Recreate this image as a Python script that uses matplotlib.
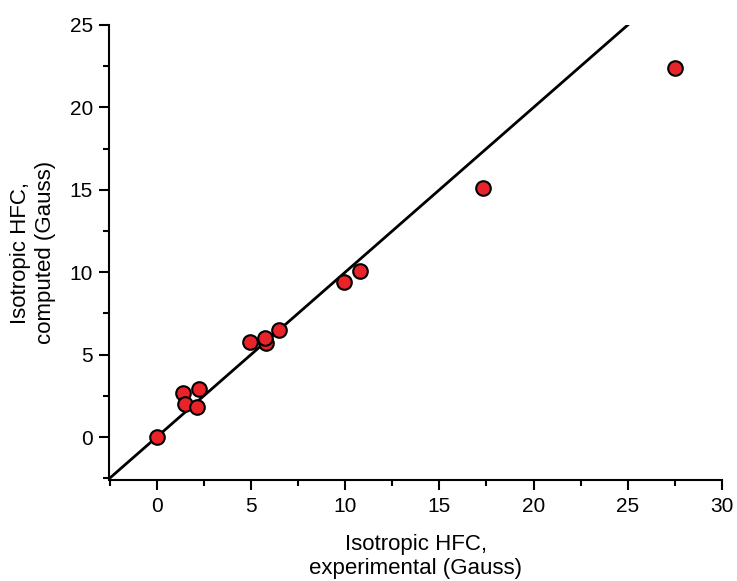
import matplotlib.pyplot as plt
from matplotlib.ticker import MultipleLocator

plt.rcParams['font.family'] = ['Liberation Sans', 'DejaVu Sans']

# isotropic hyperfine coupling constants (Gauss)
hfc_experimental = [0.0, 1.38, 1.49, 2.25, 2.14, 4.98, 5.79, 5.77, 6.48, 9.93, 10.78, 17.31, 27.51]
hfc_computed = [0.0, 2.69, 2.04, 2.89, 1.84, 5.78, 5.72, 5.99, 6.49, 9.40, 10.07, 15.10, 22.39]
ideal_line = [-2.5, 25]

fig = plt.figure(figsize=(7.37, 5.81), dpi=100)
ax = fig.add_axes([109.5 / 737, 1 - 480 / 581, (722 - 109.5) / 737, (480 - 25) / 581])

ax.plot(ideal_line, ideal_line, color='black', linewidth=2, zorder=2)
ax.plot(hfc_experimental, hfc_computed, 'o', markersize=10.5, markerfacecolor='#e8232a',
        markeredgecolor='black', markeredgewidth=1.5, zorder=3, clip_on=False)

ax.set_xlim(-2.5, 30)
ax.set_ylim(-2.6, 25)
ax.xaxis.set_major_locator(MultipleLocator(5))
ax.xaxis.set_minor_locator(MultipleLocator(2.5))
ax.yaxis.set_major_locator(MultipleLocator(5))
ax.yaxis.set_minor_locator(MultipleLocator(2.5))

for side in ['top', 'right']:
    ax.spines[side].set_visible(False)
for side in ['left', 'bottom']:
    ax.spines[side].set_linewidth(1.5)

ax.tick_params(which='major', direction='out', length=7, width=1.5, labelsize=15, pad=5)
ax.tick_params(which='minor', direction='out', length=4, width=1.5)

ax.set_xlabel('Isotropic HFC,\nexperimental (Gauss)', fontsize=16, labelpad=13)
ax.set_ylabel('Isotropic HFC,\ncomputed (Gauss)', fontsize=16, labelpad=10)

fig.savefig('out.png', dpi=100)
